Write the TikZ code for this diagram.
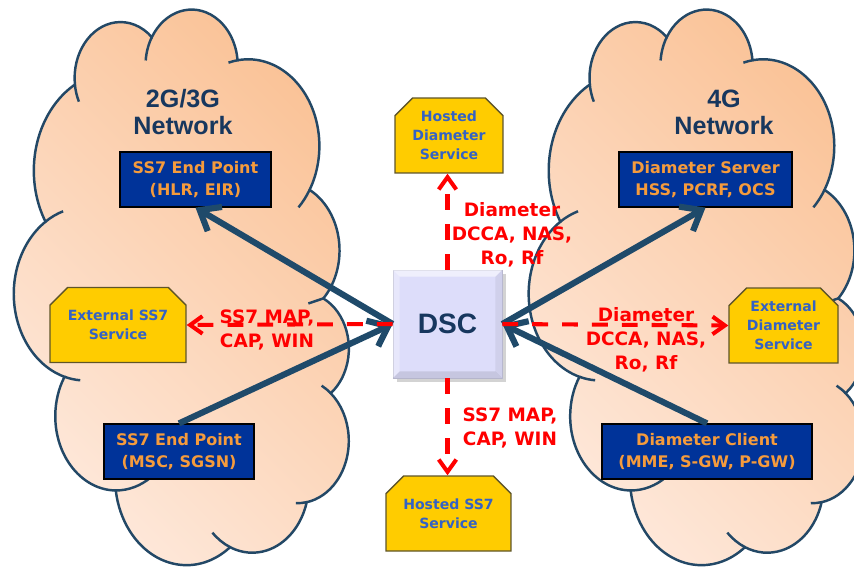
\documentclass[tikz,border=0pt]{standalone}
\usepackage{fontspec}
\setmainfont{DejaVu Sans}
\newfontfamily\arialfont{Liberation Sans}
\usetikzlibrary{arrows.meta,shapes.misc,shadows}

\definecolor{cloudlight}{RGB}{254,233,220}
\definecolor{clouddark}{RGB}{250,194,150}
\definecolor{cloudedge}{RGB}{35,72,102}
\definecolor{linkblue}{RGB}{31,74,106}
\definecolor{boxblue}{RGB}{0,51,153}
\definecolor{boxtext}{RGB}{245,155,60}
\definecolor{svcyellow}{RGB}{255,204,0}
\definecolor{svcedge}{RGB}{95,85,40}
\definecolor{svctext}{RGB}{52,98,196}
\definecolor{titleblue}{RGB}{23,55,94}
\definecolor{dscfill}{RGB}{221,221,250}
\definecolor{msgred}{RGB}{255,0,0}

\tikzset{
  cloudline/.style={draw=cloudedge,line width=1.4pt},
  cloudshade/.style={top color=cloudlight,bottom color=clouddark,shading angle=135},
  nettitle/.style={font=\arialfont\bfseries\fontsize{14.3}{15.2}\selectfont,text=titleblue,align=center},
  endpoint/.style={draw=black,line width=.7pt,fill=boxblue,text=boxtext,align=center,
    font=\bfseries\fontsize{9.1}{13}\selectfont,minimum height=1.1cm,inner sep=0pt},
  service/.style={chamfered rectangle,chamfered rectangle corners={north west,north east},
    chamfered rectangle xsep=5pt,chamfered rectangle ysep=5pt,
    draw=svcedge,line width=.8pt,fill=svcyellow,text=svctext,align=center,
    font=\bfseries\fontsize{8}{10.8}\selectfont,minimum height=1.5cm,inner sep=0pt},
  dscbox/.style={fill=dscfill,draw=dscfill!85!black,line width=.4pt,
    minimum width=2.18cm,minimum height=2.16cm,
    drop shadow={opacity=.35,shadow xshift=2pt,shadow yshift=-2pt}},
  link/.style={draw=linkblue,line width=3.5pt,-{Straight Barb[length=10pt,width=16pt]}},
  msg/.style={draw=msgred,line width=2.3pt,dash pattern=on 9pt off 8pt,
    -{Straight Barb[length=7pt,width=10pt]}},
  msglabel/.style={text=msgred,align=center,font=\bfseries\fontsize{10.5}{13.7}\selectfont},
}

% cloud outline, drawn in its own frame (43.2 x 43.2)
\newcommand{\cloudpath}{(3.9,14.37)
  arc[start angle=-187.75,end angle=-59.63,x radius=6.753,y radius=9.19]
  arc[start angle=-152.05,end angle=-45.45,x radius=5.333,y radius=7.267]
  arc[start angle=-153.49,end angle=-37.31,x radius=4.365,y radius=5.945]
  arc[start angle=-139.72,end angle=-10.21,x radius=4.857,y radius=6.595]
  arc[start angle=-74.77,end angle=23.21,x radius=5.333,y radius=7.273]
  arc[start angle=-37.51,end angle=81.86,x radius=6.775,y radius=9.22]
  arc[start angle=0.46,end angle=121.97,x radius=5.785,y radius=7.867]
  arc[start angle=16.84,end angle=146.23,x radius=6.752,y radius=9.215]
  arc[start angle=58.98,end angle=150.19,x radius=7.72,y radius=10.543]
  arc[start angle=83.31,end angle=223.12,x radius=4.36,y radius=5.918]
  arc[start angle=120.36,end angle=264.11,x radius=4.345,y radius=5.945] -- cycle}
\newcommand{\cloudfolds}{
  (5.802,35.471) arc[start angle=83.31,end angle=65,x radius=4.36,y radius=5.918]
  (2.112,25.547) arc[start angle=120.36,end angle=95,x radius=4.345,y radius=5.945]
  (3.9,14.37) arc[start angle=-187.75,end angle=-196,x radius=6.753,y radius=9.19]
  (14.004,5.202) arc[start angle=-59.63,end angle=-45,x radius=6.753,y radius=9.19]
  (22.455,3.433) -- ++(0.39,1.93)
  (29.832,2.482) arc[start angle=-139.72,end angle=-152,x radius=4.857,y radius=6.595]
  (38.317,5.575) arc[start angle=-10.21,end angle=2,x radius=4.857,y radius=6.595]
  (41.818,15.459) arc[start angle=23.21,end angle=45,x radius=5.333,y radius=7.273]
  (37.403,30.201) arc[start angle=0.46,end angle=-35,x radius=5.785,y radius=7.867]
  (28.554,36.811) arc[start angle=16.84,end angle=4,x radius=6.752,y radius=9.215]
  (16.479,39.264) arc[start angle=146.23,end angle=162,x radius=6.752,y radius=9.215]}
\newcommand{\netcloud}[1]{%
  \begin{scope}[x=1cm,y=1cm,cm={0,-0.25694,-0.1551,0,(#1cm,-0.2cm)}]
    \begin{scope}
      \clip \cloudpath;
      \begin{scope}[reset cm]
        \shade[cloudshade] ({#1-7.1},0.1) rectangle ({#1+0.3},-11.5);
      \end{scope}
    \end{scope}
    \draw[cloudline] \cloudpath;
    \draw[cloudline] \cloudfolds;
  \end{scope}}

\begin{document}
\begin{tikzpicture}[x=.02cm,y=-.02cm]
\useasboundingbox (0,0) rectangle (854,571);
\netcloud{7}    % <<< 2G/3G
\netcloud{17.3} % <<< 4G

\node[nettitle] (t2g) at (183,112) {2G/3G\\Network};
\node[nettitle] (t4g) at (724,112) {4G\\Network};

% end points
\node[endpoint,minimum width=3.02cm] (hlr) at (195.5,179.5) {SS7 End Point\\(HLR, EIR)};
\node[endpoint,minimum width=3cm] (msc) at (179,451.5) {SS7 End Point\\(MSC, SGSN)};
\node[endpoint,minimum width=3.46cm] (hss) at (705.5,179.5) {Diameter Server\\HSS, PCRF, OCS};
\node[endpoint,minimum width=4.2cm] (mme) at (707,451.5) {Diameter Client\\(MME, S-GW, P-GW)};

% services
\node[service,minimum width=2.72cm] (extss7) at (118,325) {External SS7\\Service};
\node[service,minimum width=2.16cm] (hostdia) at (449,135.5) {Hosted\\Diameter\\Service};
\node[service,minimum width=2.18cm] (extdia) at (783.5,325.5) {External\\Diameter\\Service};
\node[service,minimum width=2.5cm] (hostss7) at (448.5,513.5) {Hosted SS7\\Service};

% DSC
\node[dscbox] (dsc) at (447.5,324) {};
\fill[white,opacity=.55] (dsc.north west) -- (dsc.north east) -- ([shift={(-7,7)}]dsc.north east) -- ([shift={(7,7)}]dsc.north west) -- cycle;
\fill[white,opacity=.3] (dsc.north west) -- ([shift={(7,7)}]dsc.north west) -- ([shift={(7,-7)}]dsc.south west) -- (dsc.south west) -- cycle;
\fill[black,opacity=.06] (dsc.north east) -- ([shift={(-7,7)}]dsc.north east) -- ([shift={(-7,-7)}]dsc.south east) -- (dsc.south east) -- cycle;
\fill[black,opacity=.1] (dsc.south west) -- ([shift={(7,-7)}]dsc.south west) -- ([shift={(-7,-7)}]dsc.south east) -- (dsc.south east) -- cycle;
\node[font=\arialfont\bfseries\fontsize{16}{18}\selectfont,text=titleblue] (dsctext) at (dsc) {DSC};

% links
\draw[link] (dsc.west) -- (hlr.south);
\draw[link] (msc.north) -- (dsc.west);
\draw[link] (dsc.east) -- (hss.south);
\draw[link] (mme.north) -- (dsc.east);

% messages
\draw[msg] (dsc.west) -- (extss7.east);
\draw[msg] (dsc.east) -- (extdia.west);
\draw[msg] (dsc.north) -- (dsc.north |- hostdia.south);
\draw[msg] (dsc.south) -- (dsc.south |- hostss7.north);

\node[msglabel] (lblup) at (512,235) {Diameter\\DCCA, NAS,\\Ro, Rf};
\node[msglabel] (lblleft) at (267,330) {SS7 MAP,\\CAP, WIN};
\node[msglabel] (lblright) at (646,340) {Diameter\\DCCA, NAS,\\Ro, Rf};
\node[msglabel] (lbldown) at (510,428) {SS7 MAP,\\CAP, WIN};
\end{tikzpicture}
\end{document}
